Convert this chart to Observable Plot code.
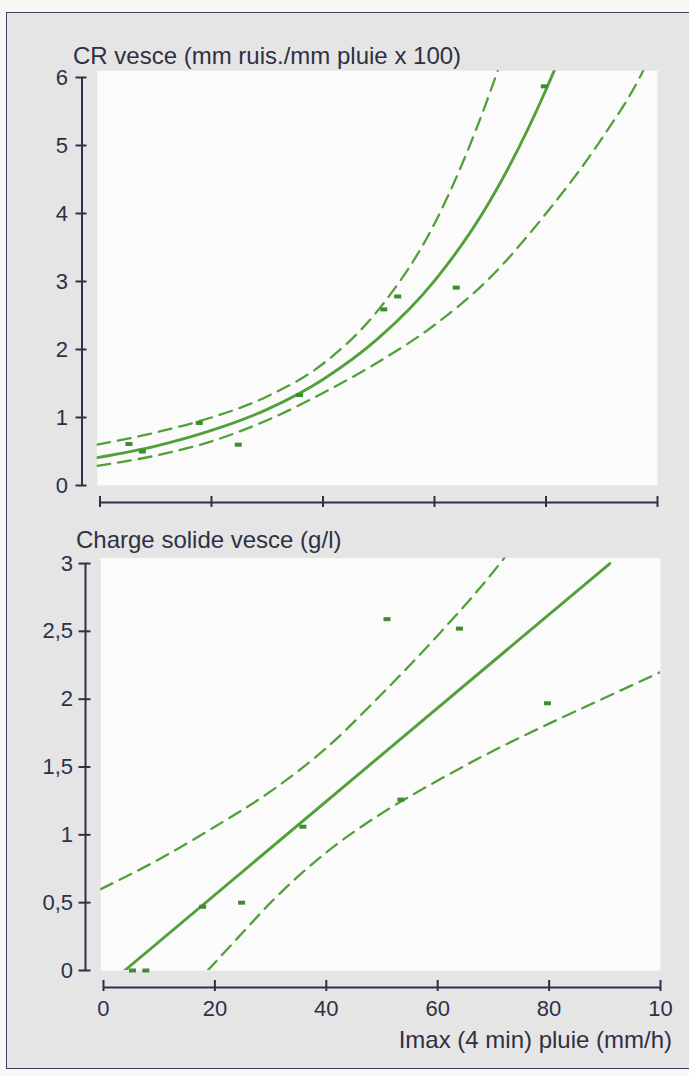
<!DOCTYPE html>
<html><head><meta charset="utf-8">
<script src="https://cdn.jsdelivr.net/npm/d3@7"></script>
<script src="https://cdn.jsdelivr.net/npm/@observablehq/plot@0.6"></script>
<style>
html,body{margin:0;padding:0;background:#f7f7f5;}
body{width:689px;height:1076px;position:relative;overflow:hidden;font-family:"Liberation Sans",Arial,Helvetica,sans-serif;}
#frame{position:absolute;left:6px;top:12px;width:720px;height:1057px;background:#e5e5e5;border:1.5px solid #3c3f5c;box-sizing:border-box;}
.title{position:absolute;font-size:24px;line-height:24px;color:#2f3044;white-space:nowrap;}
#top,#bottom{position:absolute;left:0;width:689px;}
#top{top:0}
#bottom{top:530px}
</style></head><body>
<div id="frame"></div>
<div id="top"></div><div id="bottom"></div>
<div class="title" style="left:73px;top:44px">CR vesce (mm ruis./mm pluie x 100)</div>
<div class="title" style="left:76px;top:528px">Charge solide vesce (g/l)</div>
<div class="title" style="right:17px;top:1028px">Imax (4 min) pluie (mm/h)</div>
<script>
// ---- data ----
const xImax = [5.2, 7.6, 17.8, 24.8, 35.8, 50.9, 53.4, 63.9, 79.7];
const crVesce = [0.61, 0.5, 0.92, 0.6, 1.33, 2.59, 2.78, 2.91, 5.87];
const chargeSolide = [0, 0, 0.47, 0.5, 1.06, 2.59, 1.26, 2.52, 1.97];

// top panel fitted curve and dashed band
const crFitX = [-0.5, 10, 20, 30, 40, 50, 60, 70, 80, 83];
const crFitY = [0.41, 0.58, 0.81, 1.12, 1.56, 2.17, 3.01, 4.19, 5.82, 6.4];
const crUpX = [-0.5, 10, 20, 30, 40, 50, 60, 70, 73];
const crUpY = [0.6, 0.78, 1.0, 1.31, 1.79, 2.59, 3.85, 5.79, 6.5];
const crLoX = [-0.5, 10, 20, 30, 40, 50, 60, 70, 80, 90, 97, 100];
const crLoY = [0.29, 0.44, 0.65, 0.96, 1.36, 1.82, 2.36, 3.06, 4.0, 5.1, 6.03, 6.55];

// bottom panel fitted line and dashed band
const csFitX = [3.8, 90.9];
const csFitY = [0, 3.0];
const csUpX = [-0.5, 10, 20, 30, 40, 50, 60, 70, 72.5];
const csUpY = [0.6, 0.82, 1.06, 1.32, 1.64, 2.04, 2.47, 2.94, 3.07];
const csLoX = [18.7, 25, 30, 40, 50, 60, 70, 80, 90, 100];
const csLoY = [0, 0.28, 0.5, 0.87, 1.16, 1.40, 1.62, 1.82, 2.01, 2.20];

// ticks
const xTicks = [0, 20, 40, 60, 80, 100];
const xTickLabels = ["0", "20", "40", "60", "80", "10"];
const yTicksTop = [0, 1, 2, 3, 4, 5, 6];
const yTicksBottom = [0, 0.5, 1, 1.5, 2, 2.5, 3];
const yLabelsBottom = ["0", "0,5", "1", "1,5", "2", "2,5", "3"];

// ---- styling ----
const ink = "#2f3048";
const green = "#52a03a";
const dotGreen = "#3f8c2c";
const rectSym = {draw(ctx) { ctx.moveTo(-3.5, -2); ctx.lineTo(3.5, -2); ctx.lineTo(3.5, 2); ctx.lineTo(-3.5, 2); ctx.closePath(); }};
const font = "'Liberation Sans', Arial, Helvetica, sans-serif";
const zip = (xs, ys) => xs.map((x, i) => ({x, y: ys[i]}));
const dashed = {x: "x", y: "y", stroke: green, strokeWidth: 2.3, strokeDasharray: "13,8", curve: "monotone-x", clip: true};
const solid = {x: "x", y: "y", stroke: green, strokeWidth: 2.9, curve: "monotone-x", clip: true};
const fixText = svg => { svg.querySelectorAll("text").forEach(t => { t.style.fontSize = "22px"; t.style.fontFamily = font; }); return svg; };

const topPlot = Plot.plot({
  width: 689, height: 530,
  marginLeft: 96.7, marginRight: 32, marginTop: 70.2, marginBottom: 45,
  style: {background: "transparent", fontFamily: font, fontSize: "22px", color: ink, maxWidth: "none"},
  x: {domain: [-0.5, 100]},
  y: {domain: [0, 6.1]},
  marks: [
    Plot.frame({fill: "#fbfbfb", stroke: "none"}),
    Plot.line(zip(crUpX, crUpY), dashed),
    Plot.line(zip(crLoX, crLoY), dashed),
    Plot.line(zip(crFitX, crFitY), solid),
    Plot.dot(zip(xImax, crVesce), {x: "x", y: "y", symbol: rectSym, r: 3, fill: dotGreen, stroke: "none"}),
    Plot.ruleX([-0.5], {y1: 0, y2: 6, dx: -15.2, stroke: ink, strokeWidth: 2}),
    Plot.axisY({ticks: yTicksTop, tickSize: 11, dx: -10.2, tickPadding: 8, tickFormat: d => String(d), stroke: ink, strokeWidth: 2, fill: ink, fontSize: 22, label: null}),
    Plot.ruleY([0], {x1: 0, x2: 100, dy: 17, stroke: ink, strokeWidth: 2}),
    Plot.axisX({ticks: xTicks, tickSize: 11, dy: 11, fill: "none", stroke: ink, strokeWidth: 2, label: null})
  ]
});
document.getElementById("top").append(fixText(topPlot));

const bottomPlot = Plot.plot({
  width: 689, height: 546,
  marginLeft: 100.2, marginRight: 29, marginTop: 27.6, marginBottom: 106,
  style: {background: "transparent", fontFamily: font, fontSize: "22px", color: ink, maxWidth: "none"},
  x: {domain: [-0.5, 100]},
  y: {domain: [0, 3.04]},
  marks: [
    Plot.frame({fill: "#fbfbfb", stroke: "none"}),
    Plot.line(zip(csUpX, csUpY), dashed),
    Plot.line(zip(csLoX, csLoY), dashed),
    Plot.line(zip(csFitX, csFitY), solid),
    Plot.dot(zip(xImax, chargeSolide), {x: "x", y: "y", symbol: rectSym, r: 3, fill: dotGreen, stroke: "none"}),
    Plot.ruleX([-0.5], {y1: 0, y2: 3, dx: -15.2, stroke: ink, strokeWidth: 2}),
    Plot.axisY({ticks: yTicksBottom, tickSize: 12, dx: -9.7, tickPadding: 6, tickFormat: d => yLabelsBottom[yTicksBottom.indexOf(d)], stroke: ink, strokeWidth: 2, fill: ink, fontSize: 22, label: null}),
    Plot.ruleY([0], {x1: 0, x2: 100, dy: 17, stroke: ink, strokeWidth: 2}),
    Plot.axisX({ticks: xTicks, tickSize: 11, dy: 10, tickPadding: 9, tickFormat: d => xTickLabels[xTicks.indexOf(d)], stroke: ink, strokeWidth: 2, fill: ink, fontSize: 22, label: null})
  ]
});
document.getElementById("bottom").append(fixText(bottomPlot));
</script>
</body></html>
